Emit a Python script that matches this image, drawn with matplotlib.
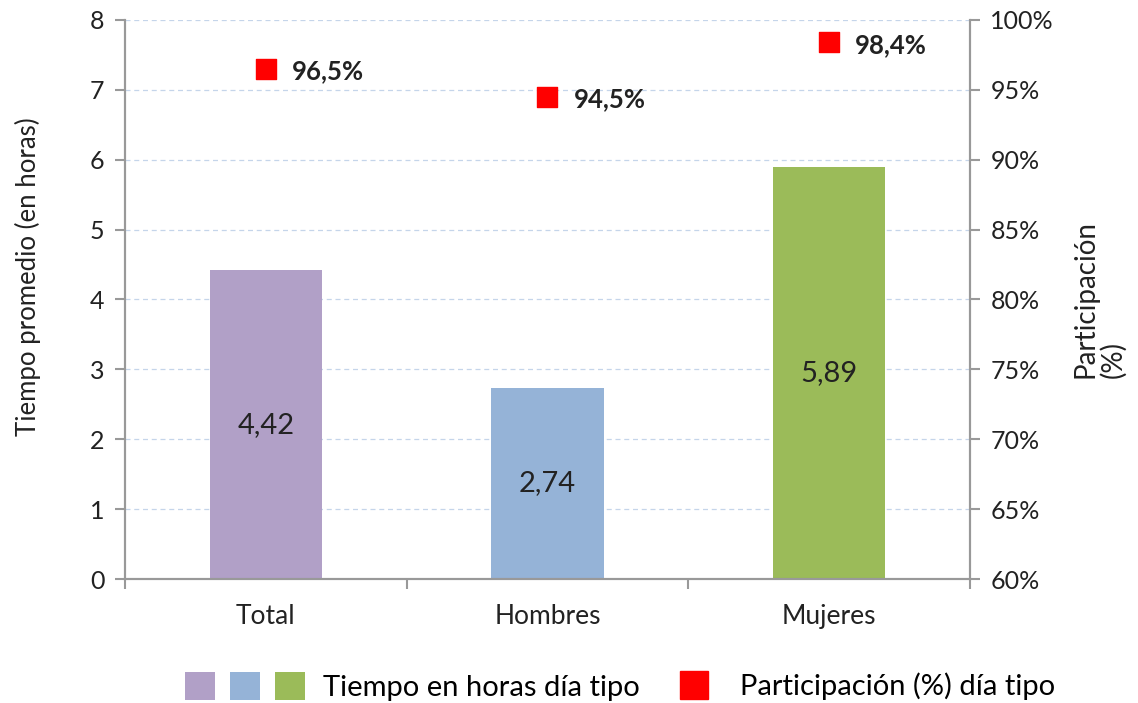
import numpy as np
from matplotlib import pyplot as plt
from matplotlib.patches import Patch
from matplotlib.lines import Line2D
from matplotlib.legend_handler import HandlerTuple
from matplotlib.ticker import FuncFormatter, FixedLocator

plt.rcParams['font.family'] = ['Lato', 'DejaVu Sans']

# Data
categories = ['Total', 'Hombres', 'Mujeres']
horas = [4.42, 2.74, 5.89]
participacion = [96.5, 94.5, 98.4]
bar_colors = ['#B1A0C7', '#95B3D7', '#9BBB59']

fig = plt.figure(figsize=(11.38, 7.03), dpi=100)
ax = fig.add_axes([0.110, 0.176, 0.742, 0.796])
ax2 = ax.twinx()

x = np.arange(len(categories))
bars = ax.bar(x, horas, width=0.4, color=bar_colors, zorder=2)
for xi, h in zip(x, horas):
    ax.text(xi, h / 2, '{:.2f}'.format(h).replace('.', ','), ha='center', va='center',
            fontsize=21, color='#222222', zorder=3)

ax.set_xlim(-0.5, 2.5)
ax.set_ylim(0, 8)
ax.set_yticks(range(0, 9))
ax.yaxis.grid(True, color='#C5D5EA', linestyle=(0, (4, 3)), linewidth=0.9)
ax.set_axisbelow(True)
ax.set_xticks(x)
ax.set_xticklabels(categories, fontsize=19, color='#222222')
ax.xaxis.set_minor_locator(FixedLocator([-0.5, 0.5, 1.5, 2.5]))
ax.tick_params(axis='x', which='major', length=0, pad=18)
ax.tick_params(axis='x', which='minor', length=7, width=1.5, color='#999999')
ax.tick_params(axis='y', length=7, width=1.5, color='#999999', labelsize=18,
               labelcolor='#222222', pad=8)
ax.set_ylabel('Tiempo promedio (en horas)', fontsize=18.5, color='#222222')
ax.yaxis.set_label_coords(-0.10, 0.54)

ax2.scatter(x, participacion, marker='s', s=190, color='#FF0000', zorder=4)
for xi, p in zip(x, participacion):
    ax2.annotate('{:.1f}%'.format(p).replace('.', ','), (xi, p), xytext=(19, -2),
                 textcoords='offset points', ha='left', va='center',
                 fontsize=18.5, fontweight='bold', color='#222222')
ax2.set_ylim(60, 100)
ax2.set_yticks(range(60, 101, 5))
ax2.yaxis.set_major_formatter(FuncFormatter(lambda v, pos: '{:d}%'.format(int(v))))
ax2.tick_params(axis='y', length=7, width=1.5, color='#999999', labelsize=18,
                labelcolor='#222222', pad=8)
ax2.set_ylabel('Participación\n(%)', fontsize=20, color='#222222', rotation=90,
               linespacing=1.05, multialignment='left')
ax2.yaxis.set_label_coords(1.122, 0.50)

for a in (ax, ax2):
    a.spines['top'].set_visible(False)
    for s in ('left', 'right', 'bottom'):
        a.spines[s].set_color('#999999')
        a.spines[s].set_linewidth(1.5)

# Legend: two pieces, bars group and participation marker
h_bars = tuple(Patch(facecolor=c) for c in bar_colors)
leg1 = fig.legend([h_bars], ['Tiempo en horas día tipo'],
                  handler_map={tuple: HandlerTuple(ndivide=None, pad=0.51)},
                  loc='center left', bbox_to_anchor=(0.1626, 0.024), frameon=False,
                  fontsize=21, handlelength=4.1, handleheight=1.1,
                  handletextpad=0.62, borderpad=0, borderaxespad=0)
h_pt = Line2D([], [], marker='s', linestyle='none', markersize=20, color='#FF0000')
fig.legend([h_pt], ['Participación (%) día tipo'],
           loc='center left', bbox_to_anchor=(0.5975, 0.024), frameon=False,
           fontsize=21, handlelength=0.96, handletextpad=1.1,
           borderpad=0, borderaxespad=0)

plt.savefig('out.png', dpi=100)
